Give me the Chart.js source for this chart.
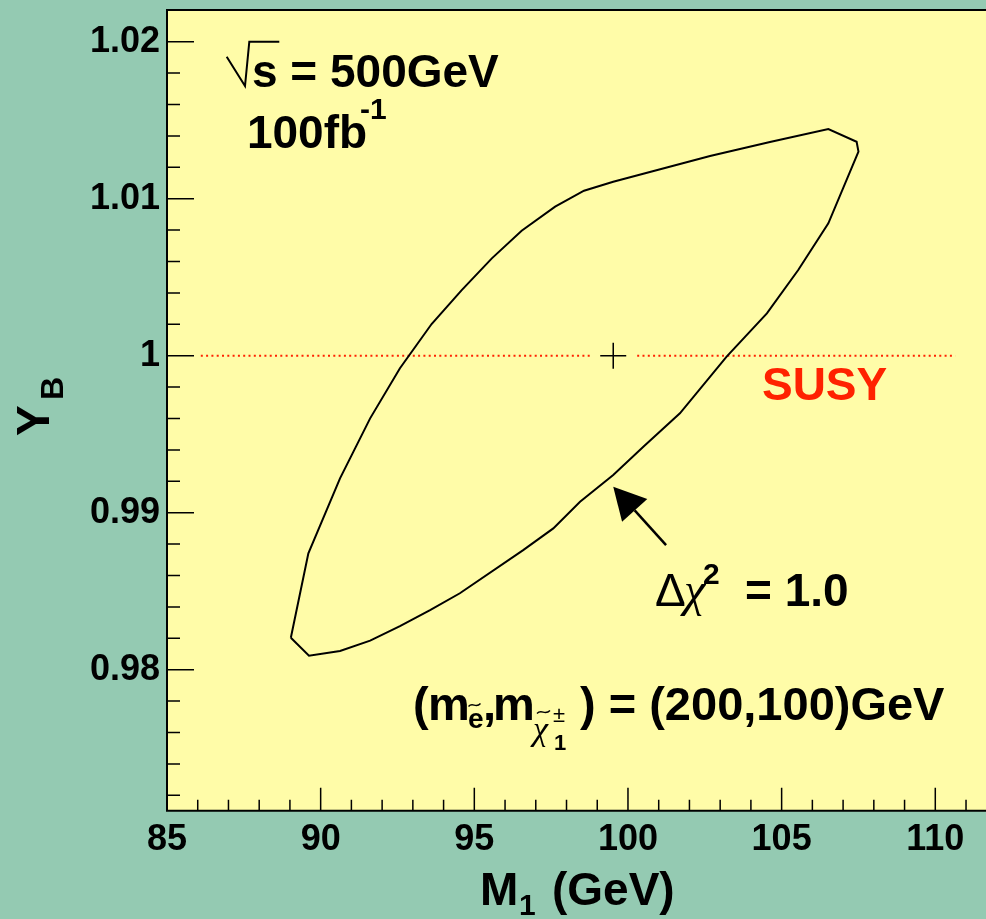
<!DOCTYPE html>
<html>
<head>
<meta charset="utf-8">
<script src="https://cdn.jsdelivr.net/npm/chart.js@4.4.0/dist/chart.umd.min.js"></script>
<style>
  html, body { margin: 0; padding: 0; background: #94cab2; }
  canvas { display: block; }
</style>
</head>
<body>
<canvas id="chart" width="986" height="919"></canvas>
<script>
// --- DATA: delta chi^2 = 1 contour in the (M1, Y_B) plane ---
const contourM1 = [89.03, 89.60, 90.63, 91.61, 92.58, 93.61, 94.59, 95.57, 96.54, 97.63, 98.57, 99.52,
  102.67, 104.62, 106.52, 107.44, 107.50, 106.52, 105.54, 104.52, 103.21, 101.69, 100.50, 99.52,
  98.44, 97.57, 96.59, 94.53, 93.56, 92.58, 91.61, 90.63, 89.62, 89.03];
const contourYB = [0.98204, 0.98741, 0.99219, 0.99601, 0.99920, 1.00202, 1.00418, 1.00620, 1.00796, 1.00949, 1.01051, 1.01108,
  1.01272, 1.01361, 1.01444, 1.01363, 1.01300, 1.00843, 1.00546, 1.00270, 0.99994, 0.99633, 0.99420, 0.99240,
  0.99070, 0.98900, 0.98762, 0.98487, 0.98380, 0.98278, 0.98185, 0.98119, 0.98089, 0.98204];

// SUSY reference line (Y_B = 1), broken around the input point
const susyLeftM1 = [86.1, 98.8];
const susyRightM1 = [100.3, 110.65];
const susyYB = [1.0, 1.0];

// input point
const inputM1 = [99.52];
const inputYB = [1.0];

// axis ranges and ticks
const xRange = [85, 111.65];
const yRange = [0.97102, 1.02202];
const xMajorStep = 5, xMinorStep = 1;
const yMajorStep = 0.01, yMinorStep = 0.002;

// annotation anchors (data coordinates)
const arrowTail = [101.24, 0.98794];
const arrowTip = [99.52, 0.99166];
const sqrtAnchor = [87.766, 1.017115];
const lumiAnchor = [87.60, 1.01323];
const susyAnchor = [104.36, 0.99718];
const chiAnchor = [100.88, 0.98406];
const massAnchor = [93.005, 0.97680];

const TEAL = '#94cab2';
const YELLOW = '#fffca8';
const RED = '#ff2200';
const SANS = '"Liberation Sans", Arial, Helvetica, sans-serif';
const SERIF = '"Liberation Serif", "DejaVu Serif", serif';

function pts(xs, ys) {
  return xs.map((x, i) => ({ x: x, y: ys[i] }));
}

function isMajor(v, step) {
  return Math.abs(v / step - Math.round(v / step)) < 1e-6;
}

// no automatic label padding: the plot box is placed by hand
function noPad(s) {
  s.paddingTop = 0; s.paddingBottom = 0;
  s.paddingLeft = 0; s.paddingRight = 0;
}

function drawParts(ctx, x0, y0, parts) {
  parts.forEach(p => {
    ctx.font = p.font;
    ctx.fillStyle = p.color || '#000';
    ctx.fillText(p.t, x0 + p.x, y0 + (p.dy || 0));
  });
}

function tilde(ctx, x, y, w) {
  ctx.beginPath();
  ctx.moveTo(x, y + 1.5);
  ctx.bezierCurveTo(x + w * 0.35, y - 3.5, x + w * 0.6, y + 4, x + w, y - 1.5);
  ctx.stroke();
}

const decor = {
  id: 'decor',
  beforeDraw(chart) {
    const { ctx, chartArea: a } = chart;
    ctx.save();
    ctx.fillStyle = TEAL;
    ctx.fillRect(0, 0, chart.width, chart.height);
    ctx.fillStyle = YELLOW;
    ctx.fillRect(a.left, a.top, a.right - a.left, a.bottom - a.top);
    ctx.restore();
  },
  afterDraw(chart) {
    const { ctx, chartArea: a } = chart;
    const xs = chart.scales.x, ys = chart.scales.y;
    const X = v => xs.getPixelForValue(v), Y = v => ys.getPixelForValue(v);
    ctx.save();

    // frame
    ctx.strokeStyle = '#000';
    ctx.lineWidth = 2;
    ctx.beginPath();
    ctx.moveTo(a.right + 5, a.top);
    ctx.lineTo(a.left, a.top);
    ctx.lineTo(a.left, a.bottom);
    ctx.lineTo(a.right + 5, a.bottom);
    ctx.stroke();

    // inward ticks
    ctx.lineWidth = 1.5;
    ctx.beginPath();
    xs.ticks.forEach(t => {
      const px = X(t.value);
      const len = isMajor(t.value, xMajorStep) ? 23 : 11;
      ctx.moveTo(px, a.bottom);
      ctx.lineTo(px, a.bottom - len);
    });
    ys.ticks.forEach(t => {
      const py = Y(t.value);
      const len = isMajor(t.value, yMajorStep) ? 27 : 13;
      ctx.moveTo(a.left, py);
      ctx.lineTo(a.left + len, py);
    });
    ctx.stroke();

    // arrow
    const tx = X(arrowTail[0]), ty = Y(arrowTail[1]);
    const hx = X(arrowTip[0]), hy = Y(arrowTip[1]);
    const ang = Math.atan2(hy - ty, hx - tx);
    const headLen = 32, headHalf = 17;
    const bx = hx - headLen * Math.cos(ang), by = hy - headLen * Math.sin(ang);
    ctx.lineWidth = 2.5;
    ctx.beginPath();
    ctx.moveTo(tx, ty);
    ctx.lineTo(bx, by);
    ctx.stroke();
    ctx.fillStyle = '#000';
    ctx.beginPath();
    ctx.moveTo(hx, hy);
    ctx.lineTo(bx + headHalf * Math.sin(ang), by - headHalf * Math.cos(ang));
    ctx.lineTo(bx - headHalf * Math.sin(ang), by + headHalf * Math.cos(ang));
    ctx.closePath();
    ctx.fill();

    ctx.textBaseline = 'alphabetic';
    ctx.textAlign = 'left';

    // sqrt(s) = 500GeV
    let ax = X(sqrtAnchor[0]), ay = Y(sqrtAnchor[1]);
    ctx.lineWidth = 2;
    ctx.beginPath();
    ctx.moveTo(ax - 25.3, ay - 30.3);
    ctx.lineTo(ax - 7, ay - 1);
    ctx.lineTo(ax - 2.7, ay - 45.3);
    ctx.lineTo(ax + 27.3, ay - 45.3);
    ctx.stroke();
    drawParts(ctx, ax, ay, [{ t: 's = 500GeV', x: 0, font: 'bold 46px ' + SANS }]);

    // 100fb^-1
    ax = X(lumiAnchor[0]); ay = Y(lumiAnchor[1]);
    drawParts(ctx, ax, ay, [
      { t: '100fb', x: 0, font: 'bold 46px ' + SANS },
      { t: '-1', x: 113, dy: -29, font: 'bold 30px ' + SANS }
    ]);

    // SUSY
    ax = X(susyAnchor[0]); ay = Y(susyAnchor[1]);
    drawParts(ctx, ax, ay, [{ t: 'SUSY', x: 0, font: 'bold 46px ' + SANS, color: RED }]);

    // delta chi^2 = 1.0
    ax = X(chiAnchor[0]); ay = Y(chiAnchor[1]);
    drawParts(ctx, ax, ay, [
      { t: 'Δ', x: 0, font: '46px ' + SANS },
      { t: 'χ', x: 29, font: 'italic 48px ' + SERIF },
      { t: '2', x: 48, dy: -22, font: 'bold 30px ' + SANS },
      { t: '= 1.0', x: 90, font: 'bold 46px ' + SANS }
    ]);

    // (m_e~, m_chi~1+-) = (200,100)GeV
    ax = X(massAnchor[0]); ay = Y(massAnchor[1]);
    drawParts(ctx, ax, ay, [
      { t: '(', x: 0, font: 'bold 47px ' + SANS },
      { t: 'm', x: 15, font: 'bold 47px ' + SANS },
      { t: 'e', x: 55, dy: 8, font: 'bold 28px ' + SANS },
      { t: ',', x: 70, font: 'bold 47px ' + SANS },
      { t: 'm', x: 80, font: 'bold 47px ' + SANS },
      { t: 'χ', x: 120, dy: 20, font: 'italic 34px ' + SERIF },
      { t: '1', x: 141, dy: 30, font: 'bold 22px ' + SANS },
      { t: '±', x: 140, dy: 2, font: '22px ' + SANS },
      { t: ') = (200,100)GeV', x: 167, font: 'bold 47px ' + SANS }
    ]);
    ctx.lineWidth = 1.4;
    tilde(ctx, ax + 55.5, ay - 15, 12);
    tilde(ctx, ax + 124, ay - 8, 13);

    // axis titles
    drawParts(ctx, 480, 905, [
      { t: 'M', x: 0, font: 'bold 46px ' + SANS },
      { t: '1', x: 39, dy: 10, font: 'bold 30px ' + SANS },
      { t: '(GeV)', x: 72, font: 'bold 46px ' + SANS }
    ]);
    ctx.translate(49, 435);
    ctx.rotate(-Math.PI / 2);
    drawParts(ctx, 0, 0, [
      { t: 'Y', x: -1, font: 'bold 46px ' + SANS },
      { t: 'B', x: 35, dy: 14, font: 'bold 32px ' + SANS }
    ]);
    ctx.restore();
  }
};

new Chart(document.getElementById('chart').getContext('2d'), {
  type: 'scatter',
  data: {
    datasets: [
      {
        data: pts(contourM1, contourYB),
        showLine: true, borderColor: '#000', borderWidth: 2,
        pointRadius: 0, tension: 0, fill: false
      },
      {
        data: pts(susyLeftM1, susyYB),
        showLine: true, borderColor: RED, borderWidth: 2, borderDash: [2, 3.3],
        pointRadius: 0
      },
      {
        data: pts(susyRightM1, susyYB),
        showLine: true, borderColor: RED, borderWidth: 2, borderDash: [2, 3.3],
        pointRadius: 0
      },
      {
        data: pts(inputM1, inputYB),
        pointStyle: 'cross', pointRadius: 13, borderColor: '#000', borderWidth: 1.5,
        backgroundColor: '#000'
      }
    ]
  },
  options: {
    responsive: false,
    animation: false,
    layout: { autoPadding: false, padding: { top: 10, left: 0, right: 0, bottom: 0 } },
    plugins: { legend: { display: false }, tooltip: { enabled: false } },
    scales: {
      x: {
        type: 'linear', min: xRange[0], max: xRange[1],
        grid: { display: false, drawTicks: false },
        border: { display: false },
        ticks: {
          stepSize: xMinorStep, includeBounds: false, autoSkip: false, maxRotation: 0,
          padding: 8, color: '#000', font: { family: SANS, weight: 'bold', size: 36 },
          callback: v => isMajor(v, xMajorStep) ? String(Math.round(v)) : ''
        },
        afterFit: s => { s.height = 108.3; noPad(s); }
      },
      y: {
        type: 'linear', min: yRange[0], max: yRange[1],
        grid: { display: false, drawTicks: false },
        border: { display: false },
        ticks: {
          stepSize: yMinorStep, includeBounds: false, autoSkip: false,
          padding: 7, color: '#000', font: { family: SANS, weight: 'bold', size: 36 },
          callback: v => isMajor(v, yMajorStep) ? String(+v.toFixed(2)) : ''
        },
        afterFit: s => { s.width = 167; noPad(s); }
      }
    }
  },
  plugins: [decor]
});
</script>
</body>
</html>
